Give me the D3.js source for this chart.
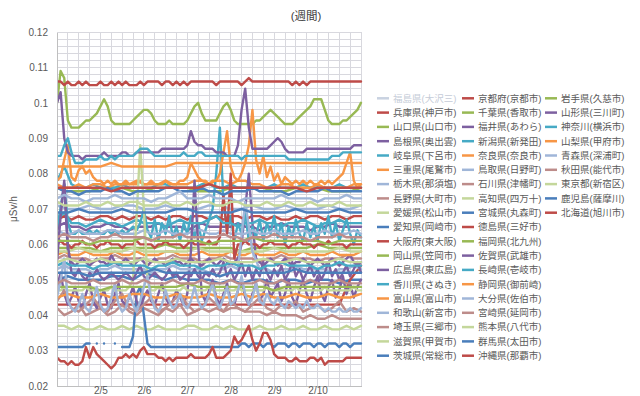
<!DOCTYPE html>
<html lang="ja">
<head>
<meta charset="utf-8">
<title>空間放射線量 (週間)</title>
<script src="https://cdnjs.cloudflare.com/ajax/libs/d3/7.8.5/d3.min.js"></script>
<style>
body { margin: 0; background: #fff; }
svg text { font-family: "Liberation Sans", "Noto Sans CJK JP", sans-serif; fill: #595959; }
.grid line { stroke: #d8d8de; stroke-width: 1; shape-rendering: crispEdges; }
.axis path { stroke: #bfbfbf; shape-rendering: crispEdges; }
.series { fill: none; stroke-width: 2.4; stroke-linejoin: round; stroke-linecap: round; }
</style>
</head>
<body>
<script>
// values in 1/1000 uSv/h, spread evenly over 2/4 0:00 .. 2/10 24:00
var fukushima = [];
var hyogo = [67,68,67,68,67,67,68,68,67,68,67,68,68,67,68,67,68,68,67,68,68,67,68,67,68,68,67,68,68,67,68,67,67,68,67,68,68,67,68,68,67,68,68];
var yamaguchi = [76,75,75,75,76,76,76,75,75,76,76,76,76,75,75,75,76,76,76,76,75,75,76,76,76,75,75,75,76];
var shimane = [65,66,65,65,64,65,65,66,65,65,64,65,65,65,66,65,65,65,64,65,66,65,65,65,65,66,65,65,64,65,65,66,65,65,65,64,65,65,66,65,65,65,65];
var gifu = [78,82,77,76,76,77,76,76,76,77,76,76,76,76,77,77,76,76,76,76,77,77,76,76,77,76,76,76,76,76,77,76,76,76,77,76,76,76,76,77,76,76,76];
var mie = [77,76,76,77,76,77,77,76,77,77,77,78,77,77,77,78,77,77,77,78,78,77,78,78,77,78,78,77,77,76,76,77,77,76,76,76,77,76,76,76,76,77,77];
var tochigi = [71,70,70,71,70,70,71,71,70,70,71,70,70,70,71,71,70,70,71,70,70,71,70,70,70,71,70,70,71];
var nagano = [56,57,56,56,56,55,56,56,57,56,56,56,56,55,56,56,57,56,56,56,55,56,56,57,56,56,56,56,55,56,56,57,56,56,56,56,55,56,56,56,57,56,56];
var ehime = [37,37,36,37,36,36,37,36,36,37,36,37,36,36,37,36,36,36,37,37,36,36,37,36,37,36,36,36,37,36,36,37,36,36,37,36,36,37,36,36,37,36,37];
var aichi = [50,51,50,50,50,51,51,50,52,51,50,51,50,50,50,49,50,49,50,50,49,50,50,49,50,50,49,50,50];
var osaka = [43,43,43,43,43,43,43,43,43,43,43,43,43,43,43,43,43,43,43,43,43,43,43,43,43,43,43,50,54];
var okayama = [59,59,59,59,58,59,59,59,59,59,60,59,59,59,59,59,59,58,59,59,59,59,59,59,60,59,59,59,59];
var hiroshima = [60,70,77,58,55,54,55,56,55,54,55,56,55,55,54,57,55,54,55,56,55,54,55,56,55,54,55,56,55,55,54,55,56,55,55,54,55,56,55,55,54,55,56,55,54,55,56,55,54,55,56,60,70,80,66,56,55,54,55,56,55,54,55,56,55,54,55,55,56,55,54,55,56,55,54,55,56,55,54,55,56,57,55,54,55];
var kagawa = [65,70,77,66,63,63,64,63,63,64,63,64,63,63,64,63,64,63,64,63,64,65,64,66,70,64,62,67,61,66,63,68,62,65,61,66,63,68,62,66,61,64,67,70,80,93,72,64,68,61,66,63,69,61,65,62,67,61,66,63,68,62,66,60,65,62,67,63,61,66,62,65,61,66,63,68,62,66,61,64,67,63,60,64,62];
var toyama = [57,58,57,57,58,57,57,57,58,57,57,58,57,57,57,58,58,57,57,57,58,57,57,57,58,57,57,58,57,57,57,58,57,57,58,57,57,57,58,57,57,57,58];
var wakayama = [64,63,63,64,63,63,63,64,64,63,63,63,64,63,63,64,63,63,63,64,64,63,63,64,63,63,63,64,63,63,64,63,63,63,64,63,63,64,63,63,63,64,63];
var saitama = [42,40,41,43,40,41,42,40,41,43,41,40,42,41,40,42,41,43,40,41,42,41,42,41,42,42,41,41,41,40,41,40,40,40,39,40,39,39,40,39,39,39,39];
var shiga = [58,58,59,58,58,58,58,59,58,58,58,58,58,59,58,58,58,58,58,58,59,58,58,58,58,58,59,58,58];
var ibaraki = [31,31,31,31,31,31,31,31,32,32,null,32,null,32,null,null,32,null,31,31,31,34,46,48,40,32,
  31,31,31,31,31,31,31,31,31,31,31,31,31,31,31,31,31,31,31,31,31,31,31,31,31,
  32,32,31,32,32,32,31,32,32,31,32,32,32,31,32,32,31,32,32,32,31,32,32,31,32,32,32,31,32,32,31,32,32,32];
var kyoto = [60,61,60,60,59,60,60,61,60,60,60,59,60,60,61,60,60,60,59,60,60,60,61,60,60,60,60,59,60,60,61,60,60,60,60,59,60,61,60,60,60,60,61,60,60,
  62,74,63,80,56,60,
  60,61,60,60,60,59,60,60,61,60,60,60,60,59,60,60,61,60,60,60,59,60,60,60,61,60,60,60,60,59,60,60,60,60];
var chiba = [100,109,107,95,93,93,93,94,95,95,96,97,99,101,99,95,94,94,94,94,94,95,96,97,98,98,97,95,94,94,94,95,94,94,94,94,95,97,99,100,97,95,95,95,95,97,99,100,98,95,94,94,94,94,94,95,95,96,97,98,97,96,95,94,94,94,95,96,97,98,99,101,101,101,98,95,94,94,94,95,95,96,97,98,100];
var fukui = [48,52,46,43,45,48,44,42,46,49,44,42,45,47,43,42,46,49,44,43,45,48,44,42,45,47,44,43,46,49,45,43,44,47,45,43,46,58,78,60,46,44,47,50,45,43,46,49,44,43,47,50,45,43,46,49,44,46,50,45,47,49,44,46,50,45,43,47,50,46,44,48,51,46,44,48,50,45,47,51,46,49,45,48,50];
var niigata = [67,69,66,66,65,66,67,66,66,65,66,67,66,66,66,65,66,67,66,66,66,67,68,66,66,65,66,66,67,66,66,65,66,66,67,66,65,66,66,67,66,66,66];
var nara = [78,79,84,88,79,78,81,82,80,81,79,78,78,77,78,77,78,77,77,78,77,77,77,78,77,77,78,77,77,77,78,77,77,77,78,78,79,83,81,79,78,78,77,78,78,80,86,92,82,79,78,80,83,88,98,84,80,85,79,82,78,80,77,79,78,77,78,77,78,77,78,77,77,78,77,78,77,78,79,80,83,86,78,76,77];
var tottori = [53,54,53,53,53,52,53,53,54,53,53,53,53,52,53,53,54,53,53,53,53,52,53,53,54,53,72,58,53,53,52,53,53,54,53,53,53,53,52,53,53,54,53];
var ishikawa = [44,47,42,41,43,45,42,41,44,46,42,41,43,45,41,42,44,46,43,41,42,45,43,41,44,42,41,43,45,42,41,43,42,44,41,42,43,41,42,44,41,42,41];
var kochi = [47,47,48,47,47,47,47,47,48,47,47,47,47,47,47,48,47,47,47,47,48,
  50,68,88,70,50,
  47,47,48,47,47,47,47,47,47,48,47,47,47,47,47,47,48,47,47,47,47,47,47,47,48,47,47,47,47,47,47,47,48,47,47,47,47,47,47,47,48,47,47,47,47,47,47,47,48,47,47,47,47,47,47,47,48,47,47];
var miyagi = [76,75,75,74,75,75,75,76,75,75,74,75,75,75,75,76,76,75,75,75,76,75,75,74,75,75,75,76,75,75,75,75,74,75,75,75,75,76,75,75,75,75,75];
var tokushima = [106,106,105,106,105,105,106,105,106,105,105,105,106,105,105,106,105,106,105,106,105,105,105,106,105,106,106,106,106,105,106,106,105,106,105,106,105,106,106,106,106,106,106,106,105,106,106,106,106,106,106,105,106,107,106,106,106,106,106,106,106,106,106,106,106,105,106,105,106,105,106,106,106,106,106,106,106,106,106,106,106,106,106,106,106];
var fukuoka = [48,48,48,48,47,48,48,48,48,48,48,48,49,48,48,48,48,48,48,48,47,48,48,48,48,48,48,48,48];
var saga = [55,68,78,60,52,51,53,51,50,52,51,53,51,50,51,52,51,50,51,52,51,50,52,54,51,50,51,52,51,50,51,53,51,52,50,51,52,51,53,51,50,52,51,53,51,52,55,51,53,50,52,55,51,54,50,53,51,55,52,50,53,51,54,50,52,55,51,53,50,52,54,51,53,50,52,55,51,53,50,52,54,51,53,55,52];
var nagasaki = [54,55,54,54,54,53,54,54,55,54,54,54,54,53,54,54,55,54,54,54,53,54,54,54,55,54,54,54,53,54,54,55,54,54,54,54,53,54,54,55,54,54,54];
var shizuoka = [45,46,45,45,46,45,45,46,46,45,45,46,45,45,46,45,45,46,45,46,45,45,46,45,45,46,45,45,46];
var oita = [45,50,56,44,42,41,43,46,42,41,44,48,43,41,42,45,49,43,41,42,46,43,41,44,48,51,45,42,41,43,47,44,42,43,46,43,42,44,48,44,42,43,46,49,44,42,45,48,43,44,47,51,46,43,45,49,44,43,46,44,43,45,43,42,44,43,42,43,42,44,42,42,43,42,41,42,41,41,42,41,41,42,41,41,42];
var miyazaki = [49,50,49,49,49,50,49,49,49,50,49,49,50,49,49,49,50,49,49,49,50,49,49,49,50,49,49,49,50,49,49,50,49,49,49,50,49,49,49,50,49,49,49];
var kumamoto = [55,56,55,55,56,55,55,55,56,55,55,56,55,55,55,56,55,55,55,56,55,55,56,55,55,55,56,55,55];
var gunma = [52,52,52,51,52,52,52,52,52,53,52,52,52,52,52,51,52,52,52,52,52,52,53,52,52,52,52,52,52];
var okinawa = [28,27,27,26,27,26,26,27,31,28,31,29,28,27,26,25,26,28,28,29,28,29,28,30,31,29,29,29,28,28,27,28,27,28,28,28,28,29,28,28,28,28,29,31,28,28,28,29,30,34,32,33,35,37,33,30,32,35,35,33,29,28,28,28,27,27,28,27,27,27,28,28,27,28,26,27,27,27,27,27,28,28,28,28,28];
var iwate = [61,61,61,60,61,61,61,61,62,61,61,61,61,61,60,61,61,61,62,61,61,61,61,61,61,60,61,61,61];
var yamagata = [100,103,90,86,85,85,85,84,85,85,85,85,85,86,85,85,85,85,86,86,85,85,86,86,86,86,86,86,86,87,87,87,87,87,87,87,88,92,89,88,88,87,87,87,86,86,86,85,85,85,88,98,104,93,87,87,87,87,87,88,89,90,89,87,86,86,86,86,86,87,87,87,87,87,87,87,87,87,87,87,87,87,88,88,88];
var kanagawa = [85,85,88,90,86,83,83,83,84,84,84,84,85,84,84,85,84,85,85,85,85,85,86,87,87,87,86,85,85,85,85,85,85,85,85,86,85,85,85,86,86,85,85,85,85,85,85,85,85,85,85,84,85,85,85,85,85,85,85,85,85,85,85,85,84,84,84,84,84,84,84,84,84,84,84,84,85,85,85,86,86,86,86,86,86];
var yamanashi = [82,82,82,82,82,83,82,82,82,82,82,83,83,83,83,83,83,83,83,83,83,83,83,83,83,83,83,83,83];
var aomori = [73,74,73,73,72,73,73,73,74,73,73,73,73,72,73,73,74,75,73,73,73,74,73,73,73,72,73,73,73,73,73,74,73,73,73,73,72,73,73,73,74,73,73];
var akita = [62,63,62,62,62,61,62,62,63,62,62,62,62,61,62,62,62,63,62,62,62,62,62,63,62,62,61,62,62,62,63,62,62,62,62,61,62,62,62,63,62,62,62];
var tokyo = [72,71,71,71,72,71,71,72,71,71,72,72,71,71,71,72,71,71,72,71,72,72,71,71,72,72,71,71,71,72,71,71,72,71,71,72,71,71,71,72,71,71,71];
var kagoshima = [69,69,70,69,69,69,70,69,69,69,69,70,70,69,69,69,69,70,69,69,69,69,70,69,69,69,70,69,69];
var hokkaido = [76,76,76,76,76,75,76,76,76,76,76,76,76,76,77,76,76,76,76,76,76,76,76,75,76,76,76,76,76];

var names = ["福島県(大沢三)","兵庫県(神戸市)","山口県(山口市)","島根県(奥出雲)","岐阜県(下呂市)","三重県(尾鷲市)","栃木県(那須塩)","長野県(大町市)","愛媛県(松山市)","愛知県(岡崎市)","大阪府(東大阪)","岡山県(笠岡市)","広島県(東広島)","香川県(さぬき)","富山県(富山市)","和歌山(新宮市)","埼玉県(三郷市)","滋賀県(甲賀市)","茨城県(常総市)",
  "京都府(京都市)","千葉県(香取市)","福井県(あわら)","新潟県(新発田)","奈良県(奈良市)","鳥取県(日野町)","石川県(津幡町)","高知県(四万十)","宮城県(丸森町)","徳島県(三好市)","福岡県(北九州)","佐賀県(武雄市)","長崎県(壱岐市)","静岡県(御前崎)","大分県(佐伯市)","宮崎県(延岡市)","熊本県(八代市)","群馬県(太田市)","沖縄県(那覇市)",
  "岩手県(久慈市)","山形県(三川町)","神奈川(横浜市)","山梨県(甲府市)","青森県(深浦町)","秋田県(能代市)","東京都(新宿区)","鹿児島(薩摩川)","北海道(旭川市)"];
var series = [fukushima,hyogo,yamaguchi,shimane,gifu,mie,tochigi,nagano,ehime,aichi,osaka,okayama,hiroshima,kagawa,toyama,wakayama,saitama,shiga,ibaraki,
  kyoto,chiba,fukui,niigata,nara,tottori,ishikawa,kochi,miyagi,tokushima,fukuoka,saga,nagasaki,shizuoka,oita,miyazaki,kumamoto,gunma,okinawa,
  iwate,yamagata,kanagawa,yamanashi,aomori,akita,tokyo,kagoshima,hokkaido];

var palette = ["#4a7ebb","#be4b48","#98b954","#7d60a0","#46aac5","#f79646","#a0b6d8","#bd8c8a","#c4d79b"];
var fadedColor = "#c9d2e1";

var yTicks = [0.02,0.03,0.04,0.05,0.06,0.07,0.08,0.09,0.1,0.11,0.12];
var dayHours = [24,48,72,96,120,144];
var dayLabels = ["2/5","2/6","2/7","2/8","2/9","2/10"];

var w = 640, h = 396;
var plotLeft = 57, plotRight = 361, plotTop = 32, plotBottom = 386;

var x = d3.scaleLinear().domain([0, 168]).range([plotLeft, plotRight]);
var y = d3.scaleLinear().domain([0.02, 0.12]).range([plotBottom, plotTop]);

var svg = d3.select("body").append("svg")
    .attr("width", w)
    .attr("height", h);

// minor + major grid
var grid = svg.append("g").attr("class", "grid");
grid.selectAll("line.hz")
    .data(d3.range(20, 121, 2))
    .enter().append("line")
    .attr("x1", plotLeft).attr("x2", plotRight)
    .attr("y1", function(d) { return y(d / 1000); })
    .attr("y2", function(d) { return y(d / 1000); });
grid.selectAll("line.vt")
    .data(d3.range(6, 169, 6))
    .enter().append("line")
    .attr("y1", plotTop).attr("y2", plotBottom)
    .attr("x1", function(d) { return x(d); })
    .attr("x2", function(d) { return x(d); });

svg.append("clipPath").attr("id", "plot")
  .append("rect")
    .attr("x", plotLeft).attr("y", plotTop - 3)
    .attr("width", plotRight - plotLeft + 2).attr("height", plotBottom - plotTop + 3);

var line = d3.line()
    .defined(function(d) { return d.v != null; })
    .x(function(d) { return x(d.t); })
    .y(function(d) { return y(d.v / 1000); });

var lines = svg.append("g").attr("clip-path", "url(#plot)");
series.forEach(function(vals, i) {
  if (!vals.length) return;
  var pts = vals.map(function(v, j) { return {t: j * 168 / (vals.length - 1), v: v}; });
  lines.append("path")
      .datum(pts)
      .attr("class", "series")
      .attr("stroke", palette[i % 9])
      .attr("d", line);
});

// axes
var yAxis = d3.axisLeft(y)
    .tickValues(yTicks)
    .tickFormat(function(d) { return String(+d.toFixed(2)); })
    .tickSize(0)
    .tickPadding(9);
svg.append("g")
    .attr("class", "axis")
    .attr("transform", "translate(" + plotLeft + ",0)")
    .call(yAxis);

var xAxis = d3.axisBottom(x)
    .tickValues(dayHours)
    .tickFormat(function(d, i) { return dayLabels[i]; })
    .tickSize(0)
    .tickPadding(1);
svg.append("g")
    .attr("class", "axis")
    .attr("transform", "translate(0," + plotBottom + ")")
    .call(xAxis);

svg.selectAll(".axis text")
    .attr("font-family", null)
    .style("font-size", "10px")
    .style("fill", "#595959");

svg.append("text")
    .attr("transform", "translate(17," + ((plotTop + plotBottom) / 2) + ") rotate(-90)")
    .attr("text-anchor", "middle")
    .style("font-size", "10px")
    .text("μSv/h");

svg.append("text")
    .attr("x", 306)
    .attr("y", 20)
    .attr("text-anchor", "middle")
    .style("font-size", "11.5px")
    .style("fill", "#404040")
    .text("(週間)");

// legend, filled column by column
var colX = [377, 462, 545];
var legend = svg.append("g");
names.forEach(function(name, i) {
  var col = Math.floor(i / 19), row = i % 19;
  var ly = 98.3 + row * 14.3;
  var c = i === 0 ? fadedColor : palette[i % 9];
  legend.append("line")
      .attr("x1", colX[col]).attr("x2", colX[col] + 12)
      .attr("y1", ly).attr("y2", ly)
      .attr("stroke", c)
      .attr("stroke-width", 2.5);
  legend.append("text")
      .attr("x", colX[col] + 16)
      .attr("y", ly)
      .attr("dy", "0.35em")
      .style("font-size", "9.5px")
      .style("fill", i === 0 ? "#c5ccd8" : "#595959")
      .text(name);
});
</script>
</body>
</html>
